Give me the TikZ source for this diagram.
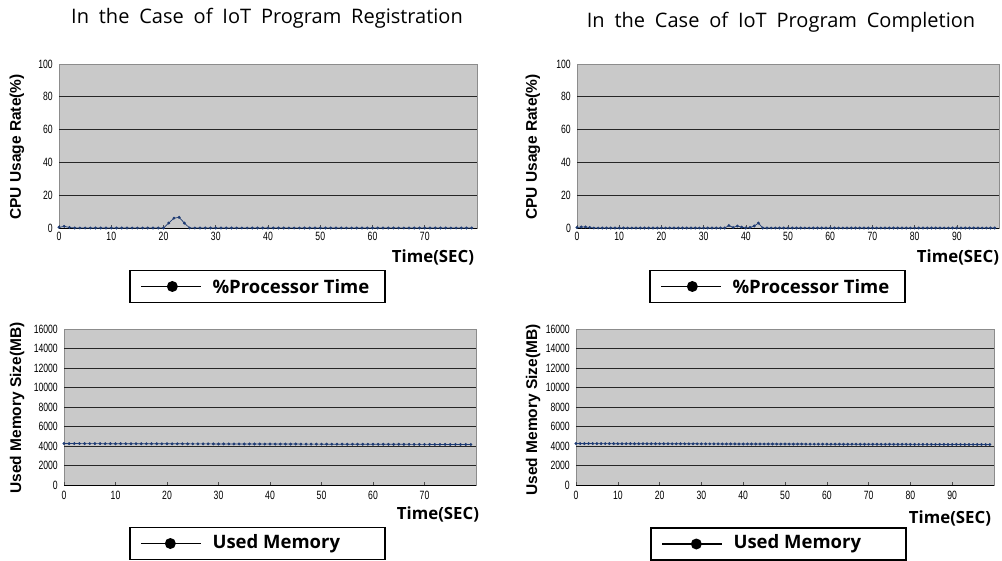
\documentclass[tikz,border=0pt]{standalone}
\usepackage{fontspec}
\setmainfont{Open Sans}
\newfontfamily\titlefont[WordSpace=1.9]{Open Sans}
\newfontfamily\axisfont{Liberation Sans}
\newfontfamily\tickfont[FakeStretch=0.72]{Liberation Sans}
\usetikzlibrary{positioning}
\definecolor{plotbg}{HTML}{C9C9C9}
\definecolor{seriesblue}{HTML}{1F3C74}
\tikzset{
  titletext/.style={font=\titlefont\fontsize{20}{20}\selectfont},
  plotframe/.style={fill=plotbg, draw=black!45, line width=0.6pt},
  gridline/.style={black!85, line width=0.9pt},
  axisline/.style={black, line width=0.9pt},
  tickmark/.style={black!70, line width=0.6pt},
  ticktext/.style={font=\tickfont\fontsize{12}{12}\selectfont, inner sep=0pt},
  axistext/.style={font=\axisfont\bfseries\fontsize{15.5}{15.5}\selectfont, rotate=90},
  timetext/.style={font=\bfseries\fontsize{16.8}{16.8}\selectfont},
  series/.style={seriesblue, line width=0.7pt, mark=*, mark size=1.1pt},
  legbox/.style={draw, line width=1.3pt, minimum width=255pt, minimum height=32pt, inner sep=0pt},
  legline/.style={line width=1.8pt},
  legtext/.style={font=\bfseries\fontsize{18.5}{18.5}\selectfont, inner sep=0pt}
}
\begin{document}
\begin{tikzpicture}[x=1pt,y=-1pt]
\useasboundingbox (0,0) rectangle (1002,561);
\node (titleReg) [titletext] at (267,18) {In the Case of IoT Program Registration};
\node (titleCom) [titletext] at (781,22) {In the Case of IoT Program Completion};

\begin{scope}[shift={(59,228)},x=5.225pt,y=1.64pt]
\draw[plotframe] (0,0) rectangle (80,100);
\foreach \v in {20,40,60,80} \draw[gridline] (0,\v) -- (80,\v);
\draw[axisline] (0,0) -- (80,0);
\foreach \v in {0,20,...,100} \node (cpuRegY\v) [ticktext,left=6pt] at (0,\v) {\v};
\foreach \t in {0,10,...,70} {
  \draw[tickmark] (\t,0) -- ++(0pt,3pt);
  \node (cpuRegX\t) [ticktext,below=4pt] at (\t,0) {\t};
}
\draw[series] plot coordinates {(0,0.4) (1,1) (2,0.3)} -- plot[domain=3:20,samples=18] (\x,0)
  -- plot coordinates {(21,3) (22,6) (23,6.5) (24,3)} -- plot[domain=25:79,samples=55] (\x,0);
\end{scope}
\node (cpuRegLab) [axistext] at (17,147) {CPU Usage Rate(\%)};
\node (timeCpuReg) [timetext] at (433,257) {Time(SEC)};
\node (legCpuReg) [legbox] at (257.5,286.5) {};
\coordinate (legCpuRegA) at ([xshift=12pt]legCpuReg.west);
\coordinate (legCpuRegB) at ([xshift=72pt]legCpuReg.west);
\coordinate (legCpuRegDot) at ([xshift=43pt]legCpuReg.west);
\draw[legline] (legCpuRegA) -- (legCpuRegB);
\fill (legCpuRegDot) circle (5.5pt);
\node (legCpuRegText) [legtext, right=11pt of legCpuRegB] {\%Processor Time};

\begin{scope}[shift={(577,228)},x=4.22pt,y=1.64pt]
\draw[plotframe] (0,0) rectangle (100,100);
\foreach \v in {20,40,60,80} \draw[gridline] (0,\v) -- (100,\v);
\draw[axisline] (0,0) -- (100,0);
\foreach \v in {0,20,...,100} \node (cpuComY\v) [ticktext,left=6pt] at (0,\v) {\v};
\foreach \t in {0,10,...,90} {
  \draw[tickmark] (\t,0) -- ++(0pt,3pt);
  \node (cpuComX\t) [ticktext,below=4pt] at (\t,0) {\t};
}
\draw[series] plot coordinates {(0,0.3) (1,0.6) (2,0.6) (3,0.3)} -- plot[domain=4:35,samples=32] (\x,0)
  -- plot coordinates {(36,1.5) (37,0.3) (38,1.2) (39,0.5) (40,0) (41,0.3) (42,1.2) (43,3) (44,0)}
  -- plot[domain=45:99,samples=55] (\x,0);
\end{scope}
\node (cpuComLab) [axistext] at (533,147) {CPU Usage Rate(\%)};
\node (timeCpuCom) [timetext] at (958,257) {Time(SEC)};
\node (legCpuCom) [legbox] at (777.5,286.5) {};
\coordinate (legCpuComA) at ([xshift=12pt]legCpuCom.west);
\coordinate (legCpuComB) at ([xshift=72pt]legCpuCom.west);
\coordinate (legCpuComDot) at ([xshift=43pt]legCpuCom.west);
\draw[legline] (legCpuComA) -- (legCpuComB);
\fill (legCpuComDot) circle (5.5pt);
\node (legCpuComText) [legtext, right=11pt of legCpuComB] {\%Processor Time};

\begin{scope}[shift={(64,485)},x=5.15pt,y=9.75pt]
\draw[plotframe] (0,0) rectangle (80,16);
\foreach \v in {2,4,...,14} \draw[gridline] (0,\v) -- (80,\v);
\draw[axisline] (0,0) -- (80,0);
\foreach \v/\lab in {0/0,2/2000,4/4000,6/6000,8/8000,10/10000,12/12000,14/14000,16/16000}
  \node (memRegY\v) [ticktext,left=6pt] at (0,\v) {\lab};
\foreach \t in {0,10,...,70} {
  \draw[tickmark] (\t,0) -- ++(0pt,3pt);
  \node (memRegX\t) [ticktext,below=6pt] at (\t,0) {\t};
}
\draw[series] plot[domain=0:79,samples=80] (\x,{4.25-0.0012*\x});
\end{scope}
\node (memRegLab) [axistext] at (17,408) {Used Memory Size(MB)};
\node (timeMemReg) [timetext] at (438,514) {Time(SEC)};
\node (legMemReg) [legbox] at (257.5,543.5) {};
\coordinate (legMemRegA) at ([xshift=12pt]legMemReg.west);
\coordinate (legMemRegB) at ([xshift=72pt]legMemReg.west);
\coordinate (legMemRegDot) at ([xshift=41pt]legMemReg.west);
\draw[legline] (legMemRegA) -- (legMemRegB);
\fill (legMemRegDot) circle (5.5pt);
\node (legMemRegText) [legtext, right=11pt of legMemRegB] {Used Memory};

\begin{scope}[shift={(576,485)},x=4.18pt,y=9.75pt]
\draw[plotframe] (0,0) rectangle (100,16);
\foreach \v in {2,4,...,14} \draw[gridline] (0,\v) -- (100,\v);
\draw[axisline] (0,0) -- (100,0);
\foreach \v/\lab in {0/0,2/2000,4/4000,6/6000,8/8000,10/10000,12/12000,14/14000,16/16000}
  \node (memComY\v) [ticktext,left=6pt] at (0,\v) {\lab};
\foreach \t in {0,10,...,90} {
  \draw[tickmark] (\t,0) -- ++(0pt,3pt);
  \node (memComX\t) [ticktext,below=6pt] at (\t,0) {\t};
}
\draw[series] plot[domain=0:99,samples=100] (\x,{4.25-0.001*\x});
\end{scope}
\node (memComLab) [axistext] at (533,410) {Used Memory Size(MB)};
\node (timeMemCom) [timetext] at (950,518) {Time(SEC)};
\node (legMemCom) [legbox] at (778.5,544) {};
\coordinate (legMemComA) at ([xshift=12pt]legMemCom.west);
\coordinate (legMemComB) at ([xshift=72pt]legMemCom.west);
\coordinate (legMemComDot) at ([xshift=46pt]legMemCom.west);
\draw[legline] (legMemComA) -- (legMemComB);
\fill (legMemComDot) circle (5.5pt);
\node (legMemComText) [legtext, right=11pt of legMemComB] {Used Memory};
\end{tikzpicture}
\end{document}
